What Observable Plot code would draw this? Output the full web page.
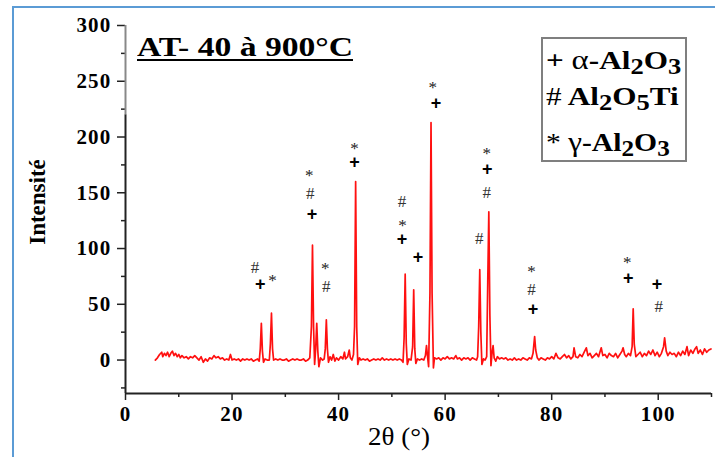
<!DOCTYPE html>
<html>
<head>
<meta charset="utf-8">
<script src="https://cdn.jsdelivr.net/npm/d3@7"></script>
<script src="https://cdn.jsdelivr.net/npm/@observablehq/plot@0.6"></script>
<style>
  body { margin: 0; background: #fff; }
  #wrap { position: relative; width: 715px; height: 457px; overflow: hidden; background: #fff; }
  #wrap svg { position: absolute; left: 0; top: 0; }
  .frame { position: absolute; left: 12px; top: 6px; width: 720px; height: 470px;
           border-left: 2px solid #5b9bd5; border-top: 2px solid #5b9bd5; }
  .title { position: absolute; left: 137px; top: 33px; font: bold 28px "Liberation Serif", serif;
           line-height: 28px; white-space: nowrap; text-decoration: underline;
           text-decoration-thickness: 2px; text-underline-offset: 3px;
           transform: scaleX(1.2); transform-origin: left top; color: #000; }
  .legbox { position: absolute; left: 541px; top: 37px; width: 146px; height: 125px;
            box-sizing: border-box; border: 2px solid #7f7f7f; background: #fff; }
  .legline { position: absolute; left: 546px; font: bold 26px "Liberation Serif", serif;
             line-height: 26px; white-space: nowrap; transform: scaleX(1.2);
             transform-origin: left top; color: #000; }
  .legline.l3 { transform: scaleX(1.14); }
  .legline sub { font-size: 0.85em; vertical-align: -0.22em; line-height: 0; }
  .legline .g { font-weight: normal; font-size: 1.05em; }
  .legline .s { font-weight: normal; }
  .ylab { position: absolute; left: 38px; top: 202px; font: bold 23px "Liberation Serif", serif;
          white-space: nowrap; transform: translate(-50%, -50%) rotate(-90deg); color: #000; }
  .xlab { position: absolute; left: 399px; top: 437px; font: 25px "Liberation Serif", serif;
          white-space: nowrap; transform: translate(-50%, -50%) scaleX(1.08); color: #000; }
</style>
</head>
<body>
<div id="wrap"></div>
<script>
// XRD pattern: [2θ (°), intensity]
const spectrum = [
  [5.6,0],[6.0,2],[6.4,5],[6.8,7],[7.0,3],[7.3,6],[7.6,4],[7.9,7],[8.2,3],[8.5,6],[8.8,8],[9.1,4],[9.4,6],[9.7,3],
  [10.0,5],[10.3,2],[10.6,4],[11.0,2],[11.4,3],[11.8,1],[12.2,3],[12.6,2],[13.0,4],[13.4,2],[13.8,0],[14.2,3],
  [14.6,-2],[15.0,1],[15.4,-1],[15.8,2],[16.2,1],[16.6,4],[17.0,2],[17.4,3],[17.8,1],[18.2,2],[18.6,0],[19.0,1],
  [19.4,0],[19.7,5],[20.0,0],[20.4,1],[20.8,0],[21.2,1],[21.6,-1],[22.0,1],[22.4,0],[22.8,1],[23.2,0],[23.6,1],
  [24.0,-1],[24.4,0],[24.8,1],[25.1,-1],[25.3,10],[25.5,33],[25.7,8],[25.9,-2],[26.2,1],[26.6,0],[27.0,0],
  [27.2,15],[27.4,42],[27.6,10],[27.8,0],[28.2,1],[28.6,0],[29.0,1],[29.4,0],[29.8,0],[30.2,1],[30.6,-1],
  [31.0,0],[31.4,1],[31.8,0],[32.2,1],[32.6,0],[33.0,0],[33.4,1],[33.8,-1],[34.2,0],[34.6,2],[34.9,30],
  [35.1,103],[35.3,30],[35.5,-4],[35.7,10],[35.9,33],[36.1,8],[36.3,-6],[36.6,2],[37.0,0],[37.3,1],[37.5,10],
  [37.7,36],[37.9,10],[38.1,-2],[38.4,3],[38.7,0],[39.0,5],[39.3,-1],[39.6,2],[40.0,0],[40.4,3],[40.8,1],
  [41.1,7],[41.3,1],[41.7,3],[42.0,9],[42.2,2],[42.5,0],[42.8,5],[43.0,30],[43.2,160],[43.4,30],[43.6,-4],
  [43.9,2],[44.2,0],[44.6,1],[45.0,0],[45.4,1],[45.8,-1],[46.2,0],[46.6,1],[47.0,0],[47.4,1],[47.8,0],
  [48.2,2],[48.6,0],[49.0,1],[49.4,0],[49.8,1],[50.2,0],[50.6,1],[51.0,0],[51.4,1],[51.8,0],[52.1,-2],
  [52.3,20],[52.5,77],[52.7,15],[52.9,-4],[53.2,1],[53.6,0],[53.9,12],[54.1,63],[54.3,10],[54.5,-3],[54.8,1],
  [55.2,0],[55.6,1],[56.0,0],[56.3,4],[56.5,13],[56.7,3],[56.9,-6],[57.15,60],[57.35,213],[57.55,60],[57.8,-7],
  [58.0,2],[58.4,1],[58.8,2],[59.2,0],[59.6,2],[60.0,1],[60.4,3],[60.8,1],[61.2,2],[61.6,1],[62.0,4],[62.3,1],
  [62.7,2],[63.1,0],[63.5,2],[63.9,1],[64.3,2],[64.7,0],[65.1,2],[65.5,1],[65.9,0],[66.1,3],[66.3,30],[66.5,81],
  [66.7,25],[66.9,-4],[67.2,1],[67.5,0],[67.8,3],[68.0,70],[68.2,133],[68.4,40],[68.6,-5],[68.8,6],[69.0,13],
  [69.2,2],[69.5,-1],[69.8,3],[70.2,1],[70.6,2],[71.0,1],[71.4,2],[71.8,0],[72.2,1],[72.6,0],[73.0,2],[73.4,0],
  [73.8,1],[74.2,0],[74.6,2],[75.0,1],[75.4,0],[75.8,2],[76.2,1],[76.5,6],[76.8,21],[77.0,9],[77.3,2],[77.6,0],
  [78.0,2],[78.4,1],[78.8,0],[79.2,2],[79.6,1],[80.0,3],[80.4,1],[80.8,6],[81.2,2],[81.6,1],[82.0,3],[82.4,5],
  [82.8,2],[83.2,4],[83.6,1],[84.0,3],[84.2,11],[84.5,3],[84.9,2],[85.3,5],[85.7,3],[86.1,7],[86.5,11],[86.8,4],
  [87.2,6],[87.6,2],[88.0,4],[88.4,6],[88.8,3],[89.3,11],[89.6,4],[90.0,5],[90.4,2],[90.8,6],[91.2,4],[91.6,3],
  [92.0,6],[92.4,2],[92.8,5],[93.2,8],[93.4,11],[93.7,5],[94.0,3],[94.4,6],[94.8,4],[95.1,12],[95.3,46],[95.5,14],
  [95.8,3],[96.2,5],[96.6,7],[97.0,3],[97.4,6],[97.8,4],[98.2,8],[98.6,5],[99.0,9],[99.4,4],[99.8,7],[100.2,3],
  [100.6,6],[101.0,12],[101.2,20],[101.5,8],[101.8,4],[102.2,7],[102.6,5],[103.0,6],[103.4,3],[103.8,7],[104.2,4],
  [104.6,8],[105.0,5],[105.4,12],[105.7,4],[106.1,9],[106.5,6],[106.9,10],[107.2,12],[107.5,6],[107.9,9],[108.3,5],
  [108.7,10],[109.1,7],[109.5,9],[109.9,10]
];

// Phase annotations: [symbol, 2θ, intensity]
const markers = [
  ["#",24.4,83],["+",25.4,68],["*",27.7,74],
  ["*",34.6,168],["#",34.8,149],["+",35.1,131],
  ["*",37.6,85],["#",37.8,66],
  ["*",43.1,192],["+",43.1,177],
  ["#",52.0,142],["*",52.1,123],["+",52.0,108],
  ["+",55.0,92],
  ["*",57.8,247],["+",58.4,230],
  ["#",66.5,109],
  ["*",67.9,188],["+",68.0,171],["#",67.9,150],
  ["*",76.3,82],["#",76.3,63],["+",76.6,46],
  ["*",94.3,90],["+",94.5,73],
  ["+",99.9,68],["#",100.2,48]
];

const yMajor = [0, 50, 100, 150, 200, 250, 300];
const yMinor = [-25, 25, 75, 125, 175, 225, 275];
const xMajor = [0, 20, 40, 60, 80, 100];
const xMinor = [10, 30, 50, 70, 90, 110];

const titleText = "AT- 40 à 900°C";
const xLabel = "2θ (°)";
const yLabel = "Intensité";
const legendSymbols = ["+", "#", "*"];
const legendPrefixes = ["α", "", "γ"];
const legendFormulas = [["Al","2","O","3"], ["Al","2","O","5","Ti"], ["Al","2","O","3"]];

const serif = "'Liberation Serif', 'Times New Roman', serif";
const tickFont = {fontFamily: serif, fontSize: 21, fontWeight: "bold"};

const plot = Plot.plot({
  width: 715,
  height: 457,
  marginLeft: 125,
  marginRight: 4,
  marginTop: 25,
  marginBottom: 64,
  x: {domain: [0, 110]},
  y: {domain: [-30, 300]},
  style: {fontFamily: serif, fontSize: "21px", fontWeight: "bold",
          letterSpacing: "1.2px", background: "transparent", overflow: "visible", color: "#000"},
  marks: [
    Plot.line(spectrum, {x: d => d[0], y: d => d[1], stroke: "#ff1010", strokeWidth: 1.7}),
    Plot.axisY({ticks: yMajor, tickSize: 8, tickPadding: 6, label: null, strokeWidth: 1.5, stroke: "#222", ...tickFont}),
    Plot.axisY({ticks: yMinor, tickSize: 4, tickFormat: () => "", label: null, strokeWidth: 1.5, stroke: "#222"}),
    Plot.axisX({ticks: xMajor, tickSize: 7, tickPadding: 6, label: null, strokeWidth: 1.5, stroke: "#222", ...tickFont}),
    Plot.axisX({ticks: xMinor, tickSize: 4, tickFormat: () => "", label: null, strokeWidth: 1.5, stroke: "#222"}),
    Plot.ruleX([0], {y1: -30, y2: 220, stroke: "#222", strokeWidth: 2}),
    Plot.ruleX([0], {y1: 220, y2: 300, stroke: "#888", strokeWidth: 2}),
    Plot.ruleY([-30], {x1: 0, x2: 110, stroke: "#222", strokeWidth: 2}),
    Plot.text(markers.filter(m => m[0] === "+"), {x: d => d[1], y: d => d[2], text: d => d[0],
      fontFamily: "'Liberation Sans', sans-serif", fontWeight: "bold", fontSize: 18, fill: "#000"}),
    Plot.text(markers.filter(m => m[0] === "#"), {x: d => d[1], y: d => d[2], text: d => d[0],
      fontFamily: serif, fontWeight: "normal", fontSize: 17, fill: "#333"}),
    Plot.text(markers.filter(m => m[0] === "*"), {x: d => d[1], y: d => d[2], text: d => d[0], dy: 3,
      fontFamily: serif, fontWeight: "normal", fontSize: 17, fill: "#222"})
  ]
});

const wrap = document.getElementById("wrap");
wrap.appendChild(plot);

const add = (cls, html, style) => {
  const d = document.createElement("div");
  d.className = cls;
  d.innerHTML = html;
  if (style) Object.assign(d.style, style);
  wrap.appendChild(d);
  return d;
};
add("frame", "");
add("title", titleText);
add("legbox", "");
const legTops = [47, 84, 129];
legendSymbols.forEach((s, i) => {
  const f = legendFormulas[i].map(p => /\d/.test(p) ? `<sub>${p}</sub>` : p).join("");
  const sym = s === "+" ? `<span>${s}</span>` : `<span class="s">${s}</span>`;
  const pre = legendPrefixes[i] ? `<span class="g">${legendPrefixes[i]}</span>-` : "";
  add("legline l" + (i + 1), `${sym} ${pre}${f}`, {top: legTops[i] + "px"});
});
add("ylab", yLabel);
add("xlab", xLabel);
</script>
</body>
</html>
